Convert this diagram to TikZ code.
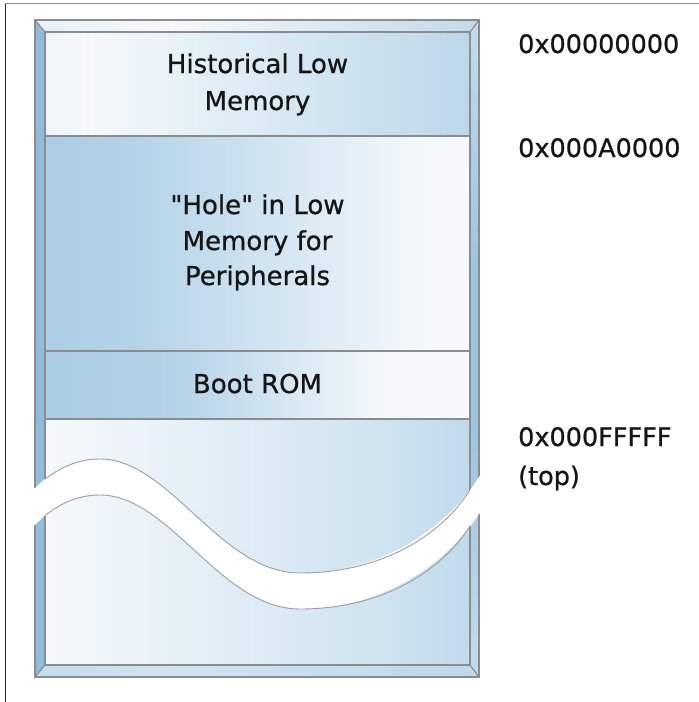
\documentclass[tikz,border=0pt]{standalone}
\usepackage{fontspec}
\setmainfont{DejaVu Sans}
\newfontfamily\medfont[FakeBold=0.8]{DejaVu Sans}
\definecolor{mbl}{HTML}{9CC3E0}
\definecolor{mbl2}{HTML}{B3D2E8}
\definecolor{mmid}{HTML}{CFE3F0}
\definecolor{mwh}{HTML}{F5F9FC}
\definecolor{mbev}{HTML}{92BCDB}
\definecolor{edgegray}{HTML}{8C8C8C}
\definecolor{txt}{HTML}{151515}
\pgfdeclarehorizontalshading{shOne}{100bp}{color(0bp)=(mmid); color(30bp)=(mwh); color(60bp)=(mmid); color(100bp)=(mbl)}
\pgfdeclarehorizontalshading{shTwo}{100bp}{color(0bp)=(mbl); color(35bp)=(mbl2); color(70bp)=(mwh); color(100bp)=(mwh)}
\pgfdeclarehorizontalshading{shThree}{100bp}{color(0bp)=(mbl); color(40bp)=(mbl2); color(65bp)=(mwh); color(100bp)=(mwh)}
\pgfdeclarehorizontalshading{shFour}{100bp}{color(0bp)=(mbl); color(25bp)=(mwh); color(65bp)=(mmid); color(100bp)=(mbl)}
\pgfdeclarehorizontalshading{shTop}{100bp}{color(0bp)=(mmid); color(40bp)=(mwh); color(100bp)=(mbl)}
\pgfdeclarehorizontalshading{shBot}{100bp}{color(0bp)=(mbl2); color(40bp)=(mmid); color(100bp)=(mbl2)}
\pgfdeclareverticalshading{shRight}{100bp}{color(0bp)=(mwh); color(45bp)=(mbl); color(55bp)=(mbl); color(100bp)=(mwh)}
\tikzset{
  boxtext/.style={anchor=base, inner sep=0pt, text=txt, font=\medfont\fontsize{26}{30}\selectfont},
  addr/.style={anchor=base west, inner sep=0pt, text=txt, font=\medfont\fontsize{25.5}{30}\selectfont},
  outline/.style={draw=edgegray, line width=1.1pt},
  sep/.style={draw=edgegray, line width=1.4pt},
  waveedge/.style={draw=edgegray!85, line width=0.9pt}
}
\begin{document}
\begin{tikzpicture}[x=1pt,y=-1pt]
\useasboundingbox (0,0) rectangle (699,702);
\fill[white] (0,0) rectangle (699,702);
% outer frame
\draw[gray!90, line width=1pt] (5,3.5) -- (699,3.5);
\draw[black!85, line width=1pt] (5,3.5) -- (5,702);
% sections
\shade[shading=shOne] (45,32) rectangle (470,136);
\shade[shading=shTwo] (45,136) rectangle (470,351);
\shade[shading=shThree] (45,351) rectangle (470,419);
\shade[shading=shFour] (45,419) rectangle (470,665);
% bevels
\shade[shading=shTop] (35,20) -- (479,20) -- (470,32) -- (45,32) -- cycle;
\fill[mbev] (35,20) -- (45,32) -- (45,665) -- (35,677) -- cycle;
\shade[shading=shRight] (479,20) -- (470,32) -- (470,665) -- (479,677) -- cycle;
\shade[shading=shBot] (35,677) -- (45,665) -- (470,665) -- (479,677) -- cycle;
% outlines
\draw[outline] (35,20) rectangle (479,677);
\draw[outline] (45,32) rectangle (470,665);
\draw[outline] (35,20) -- (45,32) (479,20) -- (470,32) (35,677) -- (45,665) (479,677) -- (470,665);
\draw[sep] (45,136) -- (470,136);
\draw[sep] (45,351) -- (470,351);
\draw[sep] (45,419) -- (470,419);
% wave gap
\fill[white] (32,489) -- (35,488) .. controls (55,468) and (75,459) .. (100,459)
  .. controls (170,459) and (220,573) .. (300,573)
  .. controls (380,573) and (445,530) .. (479,477) -- (482,473)
  -- (482,511) -- (479,514)
  .. controls (445,566) and (380,609) .. (300,609)
  .. controls (220,609) and (170,495) .. (100,495)
  .. controls (75,495) and (55,504) .. (35,525) -- (32,526) -- cycle;
\draw[waveedge] (45,479.3) .. controls (62,466) and (80,459) .. (100,459)
  .. controls (170,459) and (220,573) .. (300,573)
  .. controls (380,573) and (440,537) .. (470,490);
\draw[waveedge] (45,515.5) .. controls (62,502) and (80,495) .. (100,495)
  .. controls (170,495) and (220,609) .. (300,609)
  .. controls (380,609) and (440,573) .. (470,526);
% texts
\node[boxtext] (hist1) at (257.5,73) {Historical Low};
\node[boxtext] (hist2) at (257.5,110) {Memory};
\node[boxtext] (hole1) at (257.5,214) {\textquotedbl Hole\textquotedbl{} in Low};
\node[boxtext] (hole2) at (257.5,250) {Memory for};
\node[boxtext] (hole3) at (257.5,285) {Peripherals};
\node[boxtext] (boot) at (257.5,393) {Boot ROM};
\node[addr] (a0) at (518,53) {0x00000000};
\node[addr] (a1) at (518,157) {0x000A0000};
\node[addr] (a2) at (518,446) {0x000FFFFF};
\node[addr] (a3) at (518,485) {(top)};
\end{tikzpicture}
\end{document}
